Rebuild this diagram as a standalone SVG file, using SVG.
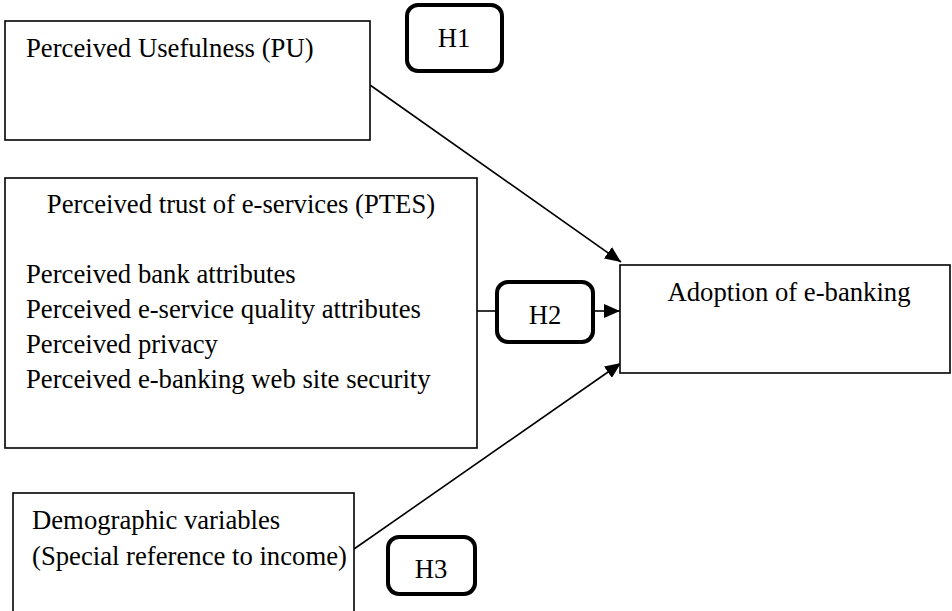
<svg xmlns="http://www.w3.org/2000/svg" width="952" height="611" viewBox="0 0 952 611">
  <defs>
    <style>
      .box { fill: #fff; stroke: #000; stroke-width: 1.6; }
      .hyp { fill: #fff; stroke: #000; stroke-width: 4; }
      .t { font-family: "Liberation Serif", "Times New Roman", serif; font-size: 26.7px; fill: #000; }
      .c { stroke: #000; stroke-width: 1.6; fill: none; }
    </style>
    <marker id="arr" markerUnits="userSpaceOnUse" markerWidth="17" markerHeight="14" refX="16" refY="7" orient="auto">
      <path d="M0,0 L16,7 L0,14 z" fill="#000"/>
    </marker>
  </defs>
  <rect width="952" height="611" fill="#fff"/>

  <g id="connectors">
    <line class="c" x1="370" y1="85" x2="621" y2="262" marker-end="url(#arr)"/>
    <line class="c" x1="477" y1="311" x2="497" y2="311"/>
    <line class="c" x1="593" y1="311" x2="620" y2="311" marker-end="url(#arr)"/>
    <line class="c" x1="354" y1="549" x2="621" y2="363" marker-end="url(#arr)"/>
  </g>

  <g id="pu">
    <rect class="box" x="5" y="21" width="365" height="119"/>
    <text class="t" x="26" y="57">Perceived Usefulness (PU)</text>
  </g>

  <g id="h1">
    <rect class="hyp" x="407" y="5" width="95" height="66" rx="11"/>
    <text class="t" x="454" y="47" text-anchor="middle">H1</text>
  </g>

  <g id="ptes">
    <rect class="box" x="5" y="178" width="472" height="270"/>
    <text class="t" x="241" y="213" text-anchor="middle">Perceived trust of e-services (PTES)</text>
    <text class="t" x="26" y="283">Perceived bank attributes</text>
    <text class="t" x="26" y="318">Perceived e-service quality attributes</text>
    <text class="t" x="26" y="353">Perceived privacy</text>
    <text class="t" x="26" y="388">Perceived e-banking web site security</text>
  </g>

  <g id="h2">
    <rect class="hyp" x="497" y="282" width="96" height="60" rx="11"/>
    <text class="t" x="545" y="324" text-anchor="middle">H2</text>
  </g>

  <g id="adoption">
    <rect class="box" x="620" y="265" width="330" height="108"/>
    <text class="t" x="789" y="301" text-anchor="middle">Adoption of e-banking</text>
  </g>

  <g id="demographic">
    <rect class="box" x="13" y="493" width="341" height="130"/>
    <text class="t" x="32" y="529">Demographic variables</text>
    <text class="t" x="32" y="565">(Special reference to income)</text>
  </g>

  <g id="h3">
    <rect class="hyp" x="388" y="537" width="87" height="57" rx="11"/>
    <text class="t" x="431" y="578" text-anchor="middle">H3</text>
  </g>
</svg>
